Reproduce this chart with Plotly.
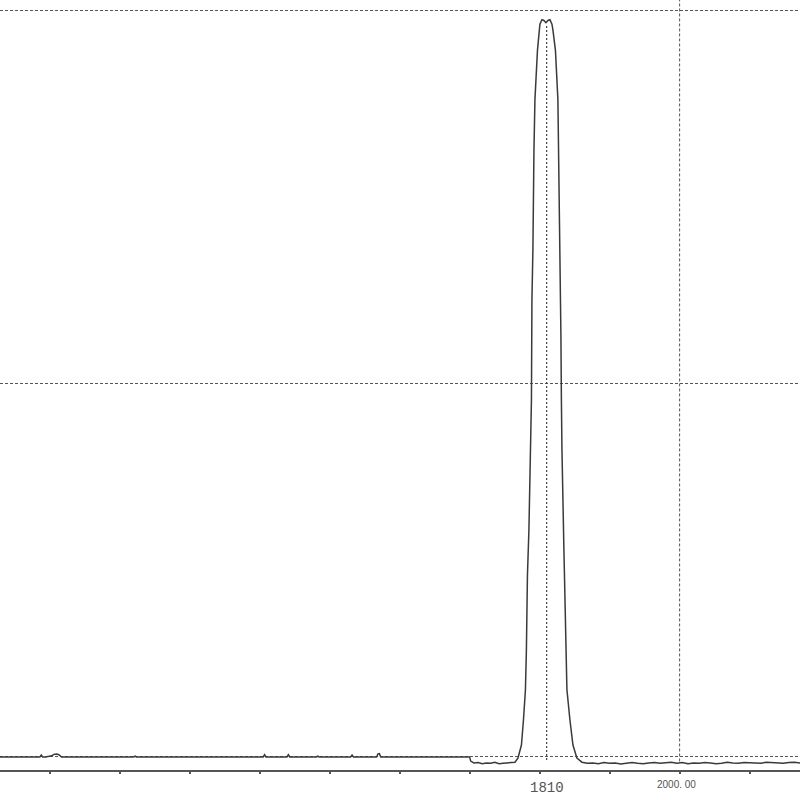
import plotly.graph_objects as go

# spettro: posizione (cm-1) e intensita' relativa
x_base_sx = [1029, 1050, 1086, 1088, 1090, 1094, 1103, 1106, 1110, 1113, 1117,
             1150, 1220, 1222, 1224, 1300, 1405, 1407, 1409, 1439, 1441, 1443,
             1481, 1483, 1485, 1530, 1532, 1534, 1567, 1569, 1571, 1573, 1600,
             1650, 1700]
y_base_sx = [0.0, 0.0, 0.0, 0.25, 0.0, 0.0, 0.15, 0.35, 0.4, 0.3, 0.0,
             0.0, 0.0, 0.12, 0.0, 0.0, 0.0, 0.3, 0.0, 0.0, 0.3, 0.0,
             0.0, 0.12, 0.0, 0.0, 0.25, 0.0, 0.0, 0.4, 0.45, 0.0, 0.0,
             0.0, 0.0]

x_picco = [1701.5, 1706, 1712, 1718, 1724, 1730, 1736, 1742, 1748, 1754,
           1760, 1764.7, 1769, 1774, 1776.9, 1779.7, 1781.1, 1782.6, 1784.7,
           1786.9, 1788.3, 1789, 1790.4, 1791.9, 1793.3, 1796.9, 1799, 1800.4,
           1803.3, 1806.1, 1809, 1811.9, 1814.7, 1817.6, 1819, 1822.6, 1826.1,
           1827.6, 1829, 1830.4, 1831.1, 1831.9, 1834.7, 1836.1, 1837.6, 1839,
           1843.3, 1847.6, 1853.3, 1860.4]
y_picco = [-0.55, -0.8, -0.75, -0.9, -0.8, -0.85, -0.7, -0.9, -0.85, -0.8,
           -0.75, -0.7, -0.15, 1.6, 4.95, 8.97, 14.3, 24.4, 30.4,
           44.4, 47.8, 61.2, 67.9, 81.3, 88.0, 94.6, 97.3, 98.1,
           98.7, 98.6, 98.3, 98.6, 98.7, 98.1, 97.3, 94.6, 88.0,
           78.6, 67.9, 56.5, 47.8, 41.1, 27.7, 22.4, 14.3, 9.0,
           4.95, 1.6, -0.15, -0.7]

x_base_dx = [1868, 1876, 1884, 1892, 1900, 1908, 1916, 1924, 1932, 1940,
             1948, 1956, 1964, 1972, 1980, 1988, 1996, 2004, 2012, 2020,
             2028, 2036, 2044, 2052, 2060, 2068, 2076, 2084, 2092, 2100,
             2108, 2116, 2124, 2132, 2140, 2148, 2156, 2164, 2172]
y_base_dx = [-0.85, -0.8, -0.9, -0.75, -0.85, -0.8, -0.95, -0.8, -0.75, -0.85,
             -0.9, -0.8, -0.75, -0.85, -0.8, -0.7, -0.85, -0.75, -0.9, -0.8,
             -0.85, -0.75, -0.8, -0.9, -0.85, -0.7, -0.8, -0.85, -0.75, -0.8,
             -0.9, -0.85, -0.7, -0.75, -0.8, -0.85, -0.75, -0.7, -0.8]

x_spettro = x_base_sx + x_picco + x_base_dx
y_spettro = y_base_sx + y_picco + y_base_dx

tacche_x = [1100, 1200, 1300, 1400, 1500, 1600, 1700, 1800, 1900, 2000, 2100]
righe_y = [0, 50, 100]
x_cursore = 1810
x_marcatore = 2000
etichetta_cursore = "1810"
etichetta_marcatore = "2000. 00"

grigio = "#555555"
tratteggio = "3px,2px"

fig = go.Figure()
fig.add_trace(
    go.Scatter(
        x=x_spettro,
        y=y_spettro,
        mode="lines",
        line=dict(color="#3a3a3a", width=1.5),
        hoverinfo="skip",
    )
)

fig.update_layout(
    width=800,
    height=800,
    margin=dict(l=0, r=0, t=0, b=0),
    plot_bgcolor="white",
    paper_bgcolor="white",
    showlegend=False,
    xaxis=dict(
        range=[1029, 2172],
        showgrid=False,
        zeroline=False,
        showline=True,
        linecolor=grigio,
        linewidth=1.5,
        anchor="free",
        position=1 - 771 / 800,
        tickvals=tacche_x,
        ticks="outside",
        ticklen=2,
        tickwidth=1.5,
        tickcolor=grigio,
        showticklabels=False,
    ),
    yaxis=dict(
        range=[-5.76, 101.34],
        tickvals=righe_y,
        showgrid=True,
        gridcolor=grigio,
        gridwidth=1,
        griddash=tratteggio,
        zeroline=False,
        showticklabels=False,
        ticks="",
    ),
)

# linea verticale al marcatore 2000
fig.add_shape(
    type="line", xref="x", yref="y",
    x0=x_marcatore, x1=x_marcatore, y0=-0.6, y1=101.34,
    line=dict(color=grigio, width=1, dash=tratteggio),
)
# linea del cursore sotto il picco
fig.add_shape(
    type="line", xref="x", yref="y",
    x0=x_cursore, x1=x_cursore, y0=-0.4, y1=98.0,
    line=dict(color="#444444", width=1.2, dash="2px,2px"),
)

fig.add_annotation(
    x=x_cursore, y=-4.1, xref="x", yref="y",
    text=etichetta_cursore, showarrow=False,
    font=dict(family="Liberation Mono", size=14, color="#555555"),
)
fig.add_annotation(
    x=1996, y=-3.7, xref="x", yref="y",
    text=etichetta_marcatore, showarrow=False,
    font=dict(family="Liberation Sans", size=10, color="#555555"),
)

# niente margine della pagina, il grafico occupa tutta la finestra
fig.write_html(
    "out.html",
    config={"displayModeBar": False},
    post_script="document.body.style.margin='0';",
)
